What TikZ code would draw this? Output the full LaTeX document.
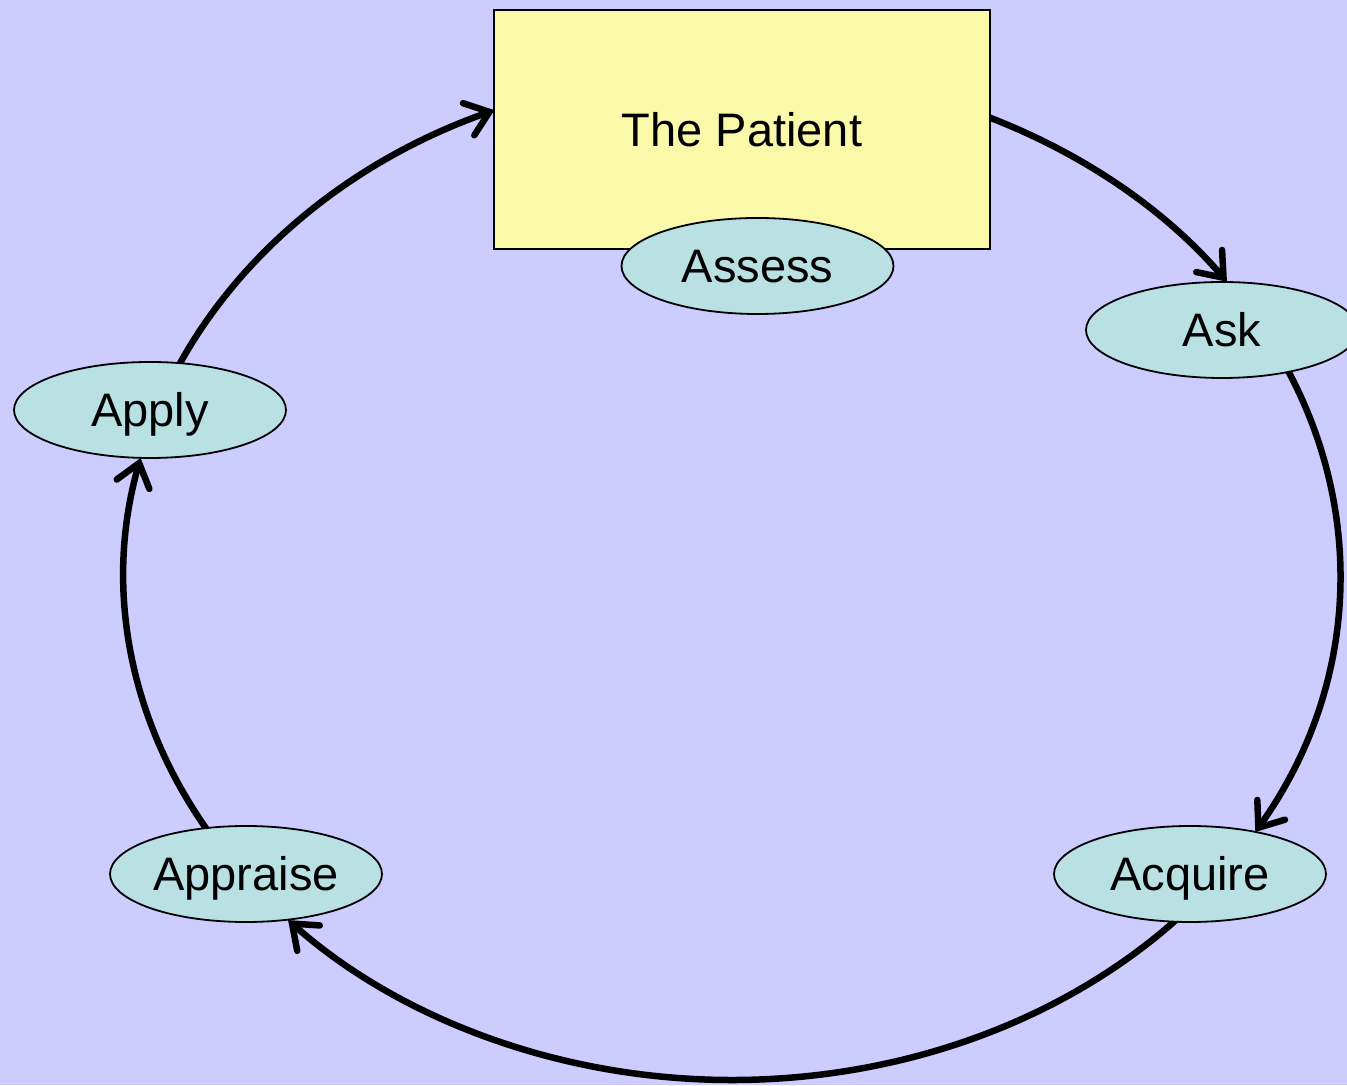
\documentclass[tikz,border=0pt]{standalone}
\usepackage{fontspec}
\setmainfont{Liberation Sans}
\usetikzlibrary{arrows.meta,shapes.geometric}
\definecolor{bgfill}{RGB}{204,204,255}
\definecolor{patientfill}{RGB}{249,249,169}
\definecolor{stagefill}{RGB}{185,224,227}
\begin{document}
\begin{tikzpicture}[x=1pt,y=1pt,
  stage/.style={ellipse, draw=black, line width=1.8pt, fill=stagefill,
    minimum width=272pt, minimum height=96pt, inner sep=0pt,
    font=\fontsize{47}{56}\selectfont, text height=33.6pt, text depth=0pt},
  patientbox/.style={rectangle, draw=black, line width=1.8pt, fill=patientfill,
    minimum width=496pt, minimum height=239pt, inner sep=0pt,
    font=\fontsize{47}{56}\selectfont, text height=33.6pt, text depth=0pt},
  cyclearrow/.style={line width=6.5pt,
    -{Straight Barb[length=22pt,width=34pt,line cap=round]}}]
\fill[bgfill] (0,0) rectangle (1347,1085);
\useasboundingbox (0,0) rectangle (1347,1085);
\coordinate (O) at (732,510);
\coordinate (s1) at ([shift={(160:608pt and 505pt)}]O);
\coordinate (s2) at ([shift={(70:608pt and 505pt)}]O);
\coordinate (s3) at ([shift={(28:608pt and 505pt)}]O);
\coordinate (s4) at ([shift={(-40:608pt and 505pt)}]O);
\coordinate (s5) at ([shift={(-145:608pt and 505pt)}]O);
\draw[cyclearrow] (s1) arc[start angle=160, end angle=113, x radius=608pt, y radius=505pt];
\draw[cyclearrow] (s2) arc[start angle=70, end angle=35.5, x radius=608pt, y radius=505pt];
\draw[cyclearrow] (s3) arc[start angle=28, end angle=-30.6, x radius=608pt, y radius=505pt];
\draw[cyclearrow] (s4) arc[start angle=-40, end angle=-136.9, x radius=608pt, y radius=505pt];
\draw[cyclearrow] (s5) arc[start angle=-145, end angle=-193.4, x radius=608pt, y radius=505pt];
\node[patientbox] (patient) at (742,955.5) {The Patient};
\node[stage] (assess) at (757.5,819) {Assess};
\node[stage] (ask) at (1222,755) {Ask};
\node[stage] (acquire) at (1190,211) {Acquire};
\node[stage] (appraise) at (246,211) {Appraise};
\node[stage] (apply) at (150,675) {Apply};
\end{tikzpicture}
\end{document}
